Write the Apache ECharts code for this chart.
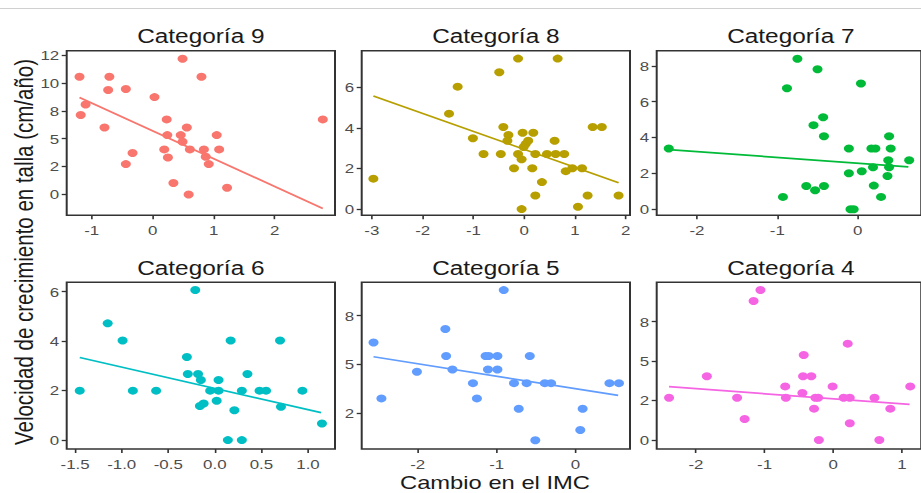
<!DOCTYPE html>
<html>
<head>
<meta charset="utf-8">
<script src="https://cdn.jsdelivr.net/npm/echarts@6/dist/echarts.min.js"></script>
<style>
html,body{margin:0;padding:0;background:#fff;overflow:hidden;}
#c{width:737px;height:493px;transform:scaleX(1.25);transform-origin:0 0;}
</style>
</head>
<body>
<div id="c"></div>
<script>
// ---------- DATA ----------
const categories = ['Categoría 9','Categoría 8','Categoría 7','Categoría 6','Categoría 5','Categoría 4'];
const xAxisTitle = 'Cambio en el IMC';
const yAxisTitle = 'Velocidad de crecimiento en talla (cm/año)';

const cat9X = [-1.20,-1.18,-1.10,-0.71,-0.73,-0.79,-0.44,-0.33,-0.44,0.03,0.23,0.24,0.19,0.25,0.34,0.49,0.46,0.49,0.56,0.61,0.59,0.80,0.84,0.87,0.92,1.05,1.09,1.22,2.79];
const cat9Y = [10.56,7.12,8.07,10.56,9.36,6.01,9.45,3.71,2.72,8.73,6.73,5.32,4.04,3.32,1.02,12.17,5.32,4.72,6.01,4.04,0,10.56,4.04,3.38,2.72,5.32,4.04,0.60,6.73];
const cat9FitX = [-1.20, 2.79];
const cat9FitY = [8.70, -1.26];

const cat8X = [-2.97,-1.48,-1.31,-1.01,-0.80,-0.49,-0.46,-0.41,-0.31,-0.33,-0.20,-0.12,-0.12,-0.05,-0.03,-0.01,0.03,0.08,-0.05,0.18,0.16,0.22,0.22,0.35,0.45,0.60,0.62,0.66,0.79,0.82,0.95,1.14,1.06,1.25,1.35,1.53,1.86];
const cat8Y = [1.50,4.70,6.03,3.49,2.71,6.74,2.71,4.04,3.65,3.37,2.01,7.41,2.71,2.45,3.76,3.06,3.21,3.37,0,3.76,2.01,2.71,0.67,1.33,2.71,3.37,2.71,7.41,2.71,1.87,2.01,2.01,0.12,0.67,4.04,4.04,0.67];
const cat8FitX = [-2.97, 1.86];
const cat8FitY = [5.57, 1.30];

const cat7X = [-2.35,-0.93,-0.88,-0.75,-0.64,-0.55,-0.53,-0.50,-0.43,-0.42,-0.42,-0.11,-0.11,-0.09,-0.05,0.04,0.05,0.17,0.22,0.19,0.20,0.29,0.39,0.41,0.38,0.39,0.37,0.64];
const cat7Y = [3.39,0.69,6.75,8.39,1.30,4.69,1.06,7.81,5.13,4.07,1.30,3.39,2.01,0,0,7.01,2.12,3.39,3.39,2.34,1.32,0.69,4.07,3.39,2.73,2.34,1.86,2.73];
const cat7FitX = [-2.35, 0.63];
const cat7FitY = [3.33, 2.36];

const cat6X = [-1.45,-1.15,-0.99,-0.88,-0.63,-0.30,-0.29,-0.21,-0.18,-0.15,-0.16,-0.12,-0.05,0.02,0.04,0.04,0.14,0.17,0.21,0.29,0.29,0.35,0.48,0.55,0.70,0.71,0.94,1.15];
const cat6Y = [2.00,4.72,4.03,2.00,2.00,3.36,2.67,6.07,2.67,2.43,1.38,1.48,2.00,1.59,2.43,2.00,0,4.03,1.21,2.00,0,2.67,2.00,2.00,4.03,1.35,2.00,0.67];
const cat6FitX = [-1.45, 1.14];
const cat6FitY = [3.34, 1.11];

const cat5X = [-2.56,-2.46,-2.01,-1.65,-1.64,-1.56,-1.30,-1.25,-1.14,-1.10,-1.11,-0.99,-0.99,-0.91,-0.78,-0.72,-0.62,-0.58,-0.51,-0.39,-0.31,0.06,0.09,0.43,0.55];
const cat5Y = [6.13,3.27,4.63,6.82,5.44,4.75,4.05,3.27,5.44,5.44,4.75,5.44,4.75,8.81,4.05,2.74,4.05,5.44,1.13,4.05,4.05,1.65,2.74,4.05,4.05];
const cat5FitX = [-2.56, 0.54];
const cat5FitY = [5.40, 3.42];

const cat4X = [-2.39,-1.84,-1.40,-1.29,-1.16,-1.06,-0.70,-0.69,-0.45,-0.43,-0.44,-0.32,-0.26,-0.22,-0.28,-0.21,-0.01,0.15,0.21,0.24,0.24,0.60,0.67,0.83,1.12];
const cat4Y = [2.68,4.04,2.68,1.33,8.81,9.51,3.40,2.68,2.98,5.39,4.04,4.04,2.68,2.68,1.99,0,3.40,2.68,6.11,2.68,1.06,2.68,0,1.99,3.40];
const cat4FitX = [-2.39, 1.11];
const cat4FitY = [3.38, 2.26];

// tick values and labels
const cat9XTicks = [-1,0,1,2];            const cat9XTickLabels = ['-1','0','1','2'];
const cat9YTicks = [0,2.5,5,7.5,10,12.5]; const cat9YTickLabels = ['0','2','5','8','10','12'];
const cat8XTicks = [-3,-2,-1,0,1,2];      const cat8XTickLabels = ['-3','-2','-1','0','1','2'];
const cat8YTicks = [0,2,4,6];             const cat8YTickLabels = ['0','2','4','6'];
const cat7XTicks = [-2,-1,0];             const cat7XTickLabels = ['-2','-1','0'];
const cat7YTicks = [0,2,4,6,8];           const cat7YTickLabels = ['0','2','4','6','8'];
const cat6XTicks = [-1.5,-1,-0.5,0,0.5,1]; const cat6XTickLabels = ['-1.5','-1.0','-0.5','0.0','0.5','1.0'];
const cat6YTicks = [0,2,4,6];             const cat6YTickLabels = ['0','2','4','6'];
const cat5XTicks = [-2,-1,0];             const cat5XTickLabels = ['-2','-1','0'];
const cat5YTicks = [2.5,5,7.5];           const cat5YTickLabels = ['2','5','8'];
const cat4XTicks = [-2,-1,0,1];           const cat4XTickLabels = ['-2','-1','0','1'];
const cat4YTicks = [0,2.5,5,7.5];         const cat4YTickLabels = ['0','2','5','8'];

// axis limits
const cat9XLim = [-1.41, 2.99]; const cat9YLim = [-1.86, 12.89];
const cat8XLim = [-3.20, 2.085]; const cat8YLim = [-0.30, 7.80];
const cat7XLim = [-2.50, 0.79]; const cat7YLim = [-0.33, 8.84];
const cat6XLim = [-1.59, 1.29]; const cat6YLim = [-0.36, 6.38];
const cat5XLim = [-2.71, 0.69]; const cat5YLim = [0.68, 9.21];
const cat4XLim = [-2.57, 1.28]; const cat4YLim = [-0.57, 10.0];

// ---------- STYLE / LAYOUT ----------
const S = 1.25; // horizontal stretch of the picture
const palette = ['#F8766D','#B79F00','#00BA38','#00BFC4','#619CFF','#F564E3'];
const FONT = "'Liberation Sans', Arial, sans-serif";
const colLeft = [66.7, 361.7, 656.7];
const colWidth = 268.3;
const rowTop = [50.7, 282.3];
const rowHeight = [164.5, 166.7];

const panels = [
  {x:cat9X,y:cat9Y,fx:cat9FitX,fy:cat9FitY,xt:cat9XTicks,xl:cat9XTickLabels,yt:cat9YTicks,yl:cat9YTickLabels,xlim:cat9XLim,ylim:cat9YLim},
  {x:cat8X,y:cat8Y,fx:cat8FitX,fy:cat8FitY,xt:cat8XTicks,xl:cat8XTickLabels,yt:cat8YTicks,yl:cat8YTickLabels,xlim:cat8XLim,ylim:cat8YLim},
  {x:cat7X,y:cat7Y,fx:cat7FitX,fy:cat7FitY,xt:cat7XTicks,xl:cat7XTickLabels,yt:cat7YTicks,yl:cat7YTickLabels,xlim:cat7XLim,ylim:cat7YLim},
  {x:cat6X,y:cat6Y,fx:cat6FitX,fy:cat6FitY,xt:cat6XTicks,xl:cat6XTickLabels,yt:cat6YTicks,yl:cat6YTickLabels,xlim:cat6XLim,ylim:cat6YLim},
  {x:cat5X,y:cat5Y,fx:cat5FitX,fy:cat5FitY,xt:cat5XTicks,xl:cat5XTickLabels,yt:cat5YTicks,yl:cat5YTickLabels,xlim:cat5XLim,ylim:cat5YLim},
  {x:cat4X,y:cat4Y,fx:cat4FitX,fy:cat4FitY,xt:cat4XTicks,xl:cat4XTickLabels,yt:cat4YTicks,yl:cat4YTickLabels,xlim:cat4XLim,ylim:cat4YLim}
];

function labelFor(ticks, labels){
  return function(v){
    for (let i=0;i<ticks.length;i++){ if (Math.abs(ticks[i]-v) < 1e-6) return labels[i]; }
    return '';
  };
}

const grids = [], xAxes = [], yAxes = [], series = [], graphics = [];
panels.forEach(function(p, i){
  const col = i % 3, row = Math.floor(i/3);
  grids.push({
    left: colLeft[col]/S, top: rowTop[row], width: colWidth/S, height: rowHeight[row],
    show: true, borderColor: '#333333', borderWidth: 1.6, backgroundColor: '#fff', containLabel: false
  });
  const axisLabelStyle = {color:'#4d4d4d', fontSize:13.5, fontFamily:FONT};
  xAxes.push({
    type:'value', gridIndex:i, min:p.xlim[0], max:p.xlim[1], position:'bottom',
    axisLine:{show:false, onZero:false}, splitLine:{show:false},
    axisTick:{show:true, inside:false, length:4, lineStyle:{color:'#333333', width:1.3}, customValues:p.xt},
    axisLabel:Object.assign({show:true, margin:8, customValues:p.xt, formatter:labelFor(p.xt,p.xl), showMinLabel:true, showMaxLabel:true, hideOverlap:false}, axisLabelStyle)
  });
  yAxes.push({
    type:'value', gridIndex:i, min:p.ylim[0], max:p.ylim[1], position:'left',
    axisLine:{show:false, onZero:false}, splitLine:{show:false},
    axisTick:{show:true, inside:false, length:4, lineStyle:{color:'#333333', width:1.3}, customValues:p.yt},
    axisLabel:Object.assign({show:true, margin:6, customValues:p.yt, formatter:labelFor(p.yt,p.yl), showMinLabel:true, showMaxLabel:true, hideOverlap:false}, axisLabelStyle)
  });
  series.push({
    type:'scatter', xAxisIndex:i, yAxisIndex:i, symbol:'circle', symbolSize:8,
    itemStyle:{color:palette[i], opacity:1}, silent:true, z:3,
    data:p.x.map(function(v,k){return [v,p.y[k]];})
  });
  series.push({
    type:'line', xAxisIndex:i, yAxisIndex:i, showSymbol:false, symbol:'none', silent:true, z:4,
    lineStyle:{color:palette[i], width:1.7},
    data:p.fx.map(function(v,k){return [v,p.fy[k]];})
  });
  graphics.push({
    type:'text', x:(colLeft[col]+colWidth/2)/S, y:(row===0?36.5:268),
    style:{text:categories[i], fill:'#1a1a1a', fontSize:19.5, fontFamily:FONT, align:'center', verticalAlign:'middle'}
  });
});

graphics.push({
  type:'text', x:495/S, y:482.5,
  style:{text:xAxisTitle, fill:'#1a1a1a', fontSize:19, fontFamily:FONT, align:'center', verticalAlign:'middle'}
});
graphics.push({
  type:'text', x:24/S, y:252, rotation:Math.PI/2,
  style:{text:yAxisTitle, fill:'#1a1a1a', fontSize:20.5, fontFamily:FONT, align:'center', verticalAlign:'middle'}
});
graphics.push({
  type:'line', shape:{x1:0, y1:8.5, x2:921/S, y2:8.5}, style:{stroke:'#d0d0d0', lineWidth:1}
});

const chart = echarts.init(document.getElementById('c'), null, {renderer:'svg'});
chart.setOption({
  animation:false,
  backgroundColor:'#fff',
  grid:grids, xAxis:xAxes, yAxis:yAxes, series:series, graphic:graphics
});
</script>
</body>
</html>
